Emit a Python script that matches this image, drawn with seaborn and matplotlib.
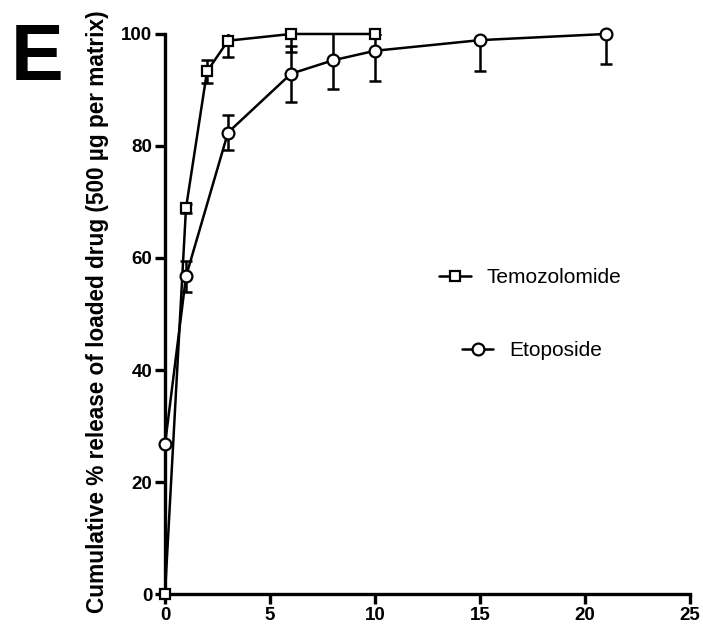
import numpy as np
import pandas as pd
import matplotlib
matplotlib.use("Agg")
import matplotlib.pyplot as plt
import seaborn as sns
from matplotlib.lines import Line2D

# ---- data ----
temo_time = [0, 1, 2, 3, 6, 10]
temo_release = [0, 68.9, 93.3, 98.8, 100, 100]
temo_err = [0, 0.8, 2.0, 3.0, 3.2, 0]

etop_time = [0, 1, 3, 6, 8, 10, 15, 21]
etop_release = [26.7, 56.7, 82.4, 92.9, 95.3, 97.0, 98.9, 100]
etop_err = [0, 2.7, 3.2, 5.0, 5.2, 5.4, 5.6, 5.4]

series_names = ["Temozolomide", "Etoposide"]
x_ticks = [0, 5, 10, 15, 20, 25]
y_ticks = [0, 20, 40, 60, 80, 100]

df = pd.concat([
    pd.DataFrame({"time": temo_time, "release": temo_release, "err": temo_err, "drug": series_names[0]}),
    pd.DataFrame({"time": etop_time, "release": etop_release, "err": etop_err, "drug": series_names[1]}),
])

sns.set_style("ticks")
plt.rcParams["font.family"] = ["Liberation Sans", "DejaVu Sans"]
plt.rcParams["text.color"] = "black"
plt.rcParams["axes.labelcolor"] = "black"
plt.rcParams["xtick.color"] = "black"
plt.rcParams["ytick.color"] = "black"
plt.rcParams["axes.edgecolor"] = "black"

fig = plt.figure(figsize=(7.03, 6.28), dpi=100)
ax = fig.add_axes([0.2347, 0.0541, 0.7468, 0.8918])

markers = {"Temozolomide": "s", "Etoposide": "o"}
msizes = {"Temozolomide": 7.5, "Etoposide": 8.5}

for name in series_names:
    sub = df[df["drug"] == name]
    ax.errorbar(sub["time"], sub["release"], yerr=sub["err"], fmt="none",
                ecolor="black", elinewidth=1.8, capsize=4.5, capthick=1.8, zorder=2)

sns.lineplot(data=df, x="time", y="release", hue="drug", style="drug",
             markers=markers, dashes=False, palette=["black", "black"],
             ax=ax, legend=False, linewidth=1.8, zorder=3, estimator=None)

for ln, name in zip(ax.get_lines()[-2:], series_names):
    ln.set_markerfacecolor("white")
    ln.set_markeredgecolor("black")
    ln.set_markeredgewidth(1.6)
    ln.set_markersize(msizes[name])
    ln.set_clip_on(False)

ax.set_xlim(0, 25)
ax.set_ylim(0, 100)
ax.set_xticks(x_ticks)
ax.set_yticks(y_ticks)
ax.set_xticklabels([str(v) for v in x_ticks], fontweight="bold", fontsize=13.5)
ax.set_yticklabels([str(v) for v in y_ticks], fontweight="bold", fontsize=13.5)
ax.set_xlabel("")
ax.set_ylabel("Cumulative % release of loaded drug (500 µg per matrix)",
              fontweight="bold", fontsize=16.3)
ax.yaxis.set_label_coords(-0.106, 0.505)

for s in ["left", "bottom"]:
    ax.spines[s].set_linewidth(2.4)
for s in ["top", "right"]:
    ax.spines[s].set_visible(False)
ax.tick_params(axis="both", width=2.4, length=7, pad=2, colors="black")

# legends
h1 = Line2D([], [], color="black", marker="s", mfc="white", mec="black",
            markersize=7.5, mew=1.6, linewidth=1.8)
h2 = Line2D([], [], color="black", marker="o", mfc="white", mec="black",
            markersize=8.5, mew=1.6, linewidth=1.8)
leg1 = ax.legend([h1], [series_names[0]], loc="center left",
                 bbox_to_anchor=(0.487, 0.565), frameon=False, fontsize=15,
                 handlelength=1.5, handletextpad=0.75)
ax.add_artist(leg1)
ax.legend([h2], [series_names[1]], loc="center left",
          bbox_to_anchor=(0.53, 0.435), frameon=False, fontsize=15,
          handlelength=1.5, handletextpad=0.75)

fig.text(0.015, 0.872, "E", fontsize=57, fontweight="bold", ha="left", va="baseline")

fig.savefig("out.png", dpi=100)
